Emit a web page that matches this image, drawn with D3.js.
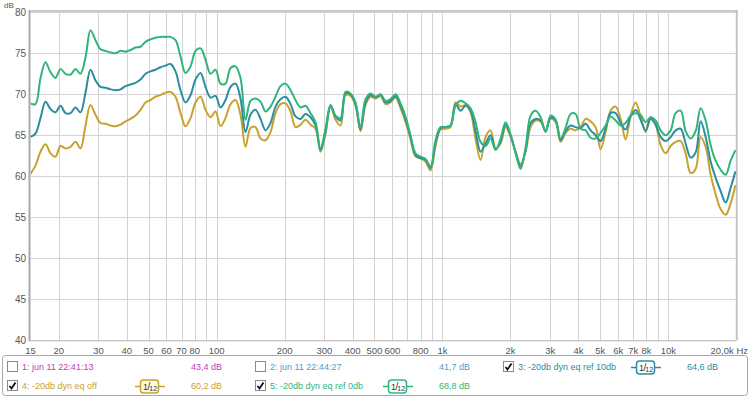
<!DOCTYPE html>
<html>
<head>
<meta charset="utf-8">
<script src="https://cdn.jsdelivr.net/npm/d3@7"></script>
<style>
  body { margin: 0; background: #fff; }
  svg { display: block; font-family: "Liberation Sans", Arial, sans-serif; }
</style>
</head>
<body>
<div id="chart"></div>
<script>
// frequency points (Hz), shared by all traces
const freqs = [15, 15.78, 16.61, 17.48, 18.39, 19.35, 20.37, 21.43, 22.55, 23.73,
  24.97, 26.28, 27.65, 29.1, 30.62, 32.22, 33.91, 35.68, 37.55, 39.51,
  41.58, 43.75, 46.04, 48.45, 50.98, 53.65, 56.45, 59.41, 62.51, 65.78,
  69.23, 72.85, 76.66, 80.67, 84.89, 89.33, 94.0, 98.92, 104.1, 109.5,
  115.3, 121.3, 127.6, 134.3, 141.3, 148.7, 156.5, 164.7, 173.3, 182.3,
  191.9, 201.9, 212.5, 223.6, 235.3, 247.6, 260.5, 274.2, 288.5, 303.6,
  319.5, 336.2, 353.8, 372.3, 391.8, 412.3, 433.8, 456.5, 480.4, 505.5,
  532, 559.8, 589.1, 619.9, 652.3, 686.4, 722.3, 760.1, 799.9, 841.7,
  885.7, 932.1, 980.8, 1032, 1086, 1143, 1203, 1266, 1332, 1402,
  1475, 1552, 1633, 1719, 1809, 1903, 2003, 2108, 2218, 2334,
  2456, 2585, 2720, 2862, 3012, 3170, 3335, 3510, 3693, 3886,
  4090, 4304, 4529, 4766, 5015, 5277, 5553, 5844, 6150, 6471,
  6810, 7166, 7541, 7935, 8350, 8787, 9247, 9730, 10240, 10775,
  11339, 11932, 12556, 13213, 13904, 14631, 15396, 16202, 17049, 17941,
  18880, 19820];

// 4: -20db dyn eq off (dB)
const eqOff = [60.3, 61.3, 63.0, 63.9, 62.8, 62.4, 63.7, 63.4, 63.6, 64.2,
  63.4, 66.2, 68.7, 67.5, 66.5, 66.4, 66.2, 66.1, 66.3, 66.7,
  67.0, 67.4, 68.1, 69.0, 69.3, 69.7, 69.9, 70.2, 70.3, 69.7,
  67.7, 66.1, 67.1, 69.0, 69.7, 68.1, 67.2, 67.9, 66.1, 67.1,
  68.8, 69.3, 67.5, 63.6, 65.9, 66.0, 64.6, 64.4, 65.4, 67.7,
  68.8, 68.9, 67.9, 66.0, 66.3, 66.9, 66.3, 65.8, 63.0, 65.2,
  68.5, 66.9, 66.2, 69.9, 69.8, 68.6, 65.5, 68.7, 69.7, 69.5,
  69.8, 68.8, 69.0, 69.6, 68.3, 66.6, 64.5, 62.4, 62.2, 61.8,
  60.7, 63.7, 65.7, 65.8, 66.0, 69.0, 68.5, 68.7, 67.8, 64.5,
  62.0, 64.8, 65.6, 63.4, 64.0, 66.0, 64.8, 63.0, 61.5, 63.0,
  66.0, 66.8, 66.7, 65.6, 67.0, 66.6, 64.2, 65.3, 65.8, 65.6,
  66.0, 67.0, 66.7, 66.0, 63.3, 65.4, 68.0, 68.5, 67.0, 64.5,
  67.4, 69.0, 67.3, 65.4, 67.2, 66.3, 63.8, 62.8, 63.7, 64.2,
  64.3, 62.8, 60.4, 60.9, 64.8, 63.6, 60.2, 57.8, 56.0, 55.3,
  56.7, 58.9];

// 3: -20db dyn eq ref 10db (dB)
const eqRef10 = [64.8, 65.2, 67.1, 69.1, 68.2, 67.8, 68.6, 67.7, 67.7, 68.4,
  67.8, 70.2, 73.0, 71.7, 70.9, 70.8, 70.6, 70.5, 70.6, 71.0,
  71.2, 71.4, 71.8, 72.5, 72.8, 73.0, 73.3, 73.5, 73.7, 72.8,
  70.5, 69.0, 69.9, 71.8, 72.6, 70.9, 69.6, 69.8, 68.4, 69.3,
  70.9, 71.3, 69.5, 65.4, 67.5, 68.1, 67.0, 65.6, 66.5, 68.5,
  69.4, 69.7, 68.8, 67.3, 67.0, 67.6, 67.2, 66.2, 63.2, 65.5,
  68.6, 67.3, 66.8, 70.1, 70.0, 68.8, 65.7, 69.0, 69.9, 69.6,
  69.9, 69.0, 69.2, 69.8, 68.6, 67.0, 64.8, 62.6, 62.2, 62.0,
  61.0, 64.1, 65.9, 66.0, 66.2, 68.8, 68.0, 68.6, 68.0, 65.5,
  63.0, 64.0, 65.0, 63.3, 64.3, 66.3, 65.0, 62.9, 61.2, 63.2,
  66.5, 67.0, 66.8, 65.5, 67.2, 66.8, 64.4, 65.5, 66.2, 66.0,
  65.9, 66.4, 65.6, 65.0, 64.3, 65.8, 67.7, 67.7, 66.5, 65.7,
  67.3, 68.1, 66.9, 65.6, 67.0, 66.3, 64.8, 64.3, 64.8, 65.6,
  65.8, 64.0, 62.3, 62.9, 66.7, 64.8, 61.8, 59.8, 58.2, 56.8,
  58.6, 60.6];

// 5: -20db dyn eq ref 0db (dB)
const eqRef0 = [68.9, 68.8, 72.0, 73.9, 72.7, 72.0, 73.1, 72.5, 72.4, 73.1,
  72.5, 74.5, 77.8, 76.6, 75.5, 75.3, 75.1, 75.0, 75.3, 75.2,
  75.4, 75.7, 75.8, 76.4, 76.7, 76.9, 77.0, 77.0, 77.0, 76.6,
  74.6, 72.6, 73.4, 75.3, 75.6, 74.2, 72.5, 73.0, 71.3, 71.3,
  73.2, 73.4, 72.0, 66.9, 69.2, 69.5, 69.1, 67.9, 68.5, 69.7,
  71.0, 71.3, 70.5, 69.3, 68.4, 68.6, 67.7, 66.6, 63.4, 65.8,
  68.7, 67.4, 67.1, 70.3, 70.1, 69.0, 65.9, 69.4, 70.1, 69.7,
  70.0, 69.2, 69.4, 70.0, 68.9, 67.3, 65.0, 62.8, 62.4, 62.1,
  61.2, 64.4, 66.0, 66.0, 66.2, 68.6, 69.2, 68.9, 68.3, 66.6,
  64.2, 63.7, 64.6, 63.2, 64.6, 66.6, 65.1, 62.8, 60.9, 63.5,
  67.4, 68.0, 67.2, 65.4, 67.4, 66.9, 64.6, 65.9, 67.6, 67.6,
  65.8, 65.6, 64.7, 64.6, 65.3, 66.2, 67.3, 66.8, 66.2, 66.5,
  67.4, 67.7, 67.5, 66.6, 67.2, 66.8, 65.6, 65.0, 65.6, 67.7,
  68.0, 65.5, 64.6, 65.5, 68.3, 66.8, 63.8, 61.9, 60.8, 60.2,
  61.9, 63.2];

const yTicks = [40, 45, 50, 55, 60, 65, 70, 75, 80];
const xTicks = [15, 20, 30, 40, 50, 60, 70, 80, 100, 200, 300, 400, 500, 600, 800,
  1000, 2000, 3000, 4000, 5000, 6000, 7000, 8000, 10000];
const xTickLabels = ['15', '20', '30', '40', '50', '60', '70', '80', '100', '200', '300', '400', '500', '600', '800',
  '1k', '2k', '3k', '4k', '5k', '6k', '7k', '8k', '10k'];

// legend entries
const legendNames = ['1: jun 11 22:41:13', '2: jun 11 22:44:27', '3: -20db dyn eq ref 10db',
  '4: -20db dyn eq off', '5: -20db dyn eq ref 0db'];
const legendValues = ['43,4 dB', '41,7 dB', '64,6 dB', '60,2 dB', '68,8 dB'];
const legendChecked = [false, false, true, true, true];
const legendColors = ['#c23cc0', '#4f9dcf', '#2b8ea0', '#c9a22e', '#2fb57a'];

const W = 750, H = 398;
const plotLeft = 30.5, plotRight = 736.3, plotTop = 12.3, plotBottom = 340.3;

const svg = d3.select('#chart').append('svg')
  .attr('width', W).attr('height', H);

const x = d3.scaleLog().domain([15, 20000]).range([plotLeft, plotRight]);
const y = d3.scaleLinear().domain([40, 80]).range([plotBottom, plotTop]);

// plot background
svg.append('rect')
  .attr('x', plotLeft).attr('y', 11).attr('width', plotRight - plotLeft).attr('height', plotBottom - 11)
  .attr('fill', '#fff');

// grid
const grid = svg.append('g');
grid.selectAll('line.v')
  .data(x.ticks().filter(d => d > 15 && d < 20000))
  .enter().append('line')
  .attr('x1', d => Math.round(x(d)) + 0.5).attr('x2', d => Math.round(x(d)) + 0.5)
  .attr('y1', 11).attr('y2', plotBottom)
  .attr('stroke', '#d3d3d3').attr('stroke-width', 1);
grid.selectAll('line.h')
  .data(yTicks.filter(d => d > 40))
  .enter().append('line')
  .attr('x1', plotLeft).attr('x2', plotRight)
  .attr('y1', d => Math.round(y(d)) + 0.5).attr('y2', d => Math.round(y(d)) + 0.5)
  .attr('stroke', '#d3d3d3').attr('stroke-width', 1);

// frame
svg.append('line').attr('x1', plotLeft).attr('x2', plotRight + 1).attr('y1', 11).attr('y2', 11)
  .attr('stroke', '#c8c8c8').attr('stroke-width', 2);
svg.append('line').attr('x1', plotRight + 0.5).attr('x2', plotRight + 0.5).attr('y1', 10).attr('y2', plotBottom)
  .attr('stroke', '#c4c4c4').attr('stroke-width', 2);
svg.append('line').attr('x1', plotLeft).attr('x2', plotRight).attr('y1', plotBottom + 0.5).attr('y2', plotBottom + 0.5)
  .attr('stroke', '#b0b0b0').attr('stroke-width', 1);
svg.append('line').attr('x1', plotLeft - 1).attr('x2', plotLeft - 1).attr('y1', 10).attr('y2', plotBottom + 1)
  .attr('stroke', '#a8a8a8').attr('stroke-width', 2);

// clip for traces
svg.append('clipPath').attr('id', 'plotclip')
  .append('rect').attr('x', plotLeft).attr('y', 11).attr('width', plotRight - plotLeft).attr('height', plotBottom - 11);

const line = d3.line()
  .x((d, i) => x(freqs[i]))
  .y(d => y(d))
  .curve(d3.curveCatmullRom.alpha(0.5));

const traces = svg.append('g').attr('clip-path', 'url(#plotclip)');
[[eqOff, legendColors[3]], [eqRef10, legendColors[2]], [eqRef0, legendColors[4]]].forEach(function (s) {
  traces.append('path')
    .attr('d', line(s[0]))
    .attr('fill', 'none')
    .attr('stroke', s[1])
    .attr('stroke-width', 2)
    .attr('stroke-linejoin', 'round');
});

// y labels
svg.append('g').selectAll('text')
  .data(yTicks)
  .enter().append('text')
  .attr('x', 26).attr('y', d => y(d) + 3.5)
  .attr('text-anchor', 'end')
  .attr('font-size', 10).attr('fill', '#555')
  .text(d => d);
svg.append('text').attr('x', 4).attr('y', 8).attr('font-size', 8).attr('fill', '#555').text('dB');

// x labels
svg.append('g').selectAll('text')
  .data(xTicks)
  .enter().append('text')
  .attr('x', d => x(d)).attr('y', 353.5)
  .attr('text-anchor', 'middle')
  .attr('font-size', 9.5).attr('fill', '#555')
  .text((d, i) => xTickLabels[i]);
svg.append('text').attr('x', 748).attr('y', 353.5).attr('text-anchor', 'end')
  .attr('font-size', 9.5).attr('fill', '#555').text('20,0k Hz');

// legend box
svg.append('rect')
  .attr('x', 2.5).attr('y', 355.5).attr('width', 745).attr('height', 40)
  .attr('rx', 3).attr('fill', '#fff').attr('stroke', '#a6a6a6');

const slots = [[7, 367], [255, 367], [503, 367], [7, 386], [255, 386]];
legendNames.forEach(function (name, i) {
  const cx = slots[i][0], cy = slots[i][1];
  const g = svg.append('g');
  g.append('rect').attr('x', cx + 0.5).attr('y', cy - 5.5).attr('width', 10).attr('height', 10)
    .attr('fill', '#fff').attr('stroke', '#8a8a8a');
  if (legendChecked[i]) {
    g.append('path')
      .attr('d', `M${cx + 2.5},${cy} L${cx + 4.5},${cy + 2.5} L${cx + 8.5},${cy - 3.5}`)
      .attr('fill', 'none').attr('stroke', '#111').attr('stroke-width', 1.8);
  }
  g.append('text').attr('x', cx + 15).attr('y', cy + 3.2)
    .attr('font-size', 9).attr('fill', legendColors[i]).text(name);
  g.append('text').attr('x', cx + 215).attr('y', cy + 3.2).attr('text-anchor', 'end')
    .attr('font-size', 9).attr('fill', legendColors[i]).text(legendValues[i]);
  if (legendChecked[i]) {
    const ix = cx + 128;
    g.append('line').attr('x1', ix).attr('x2', ix + 30).attr('y1', cy + 0.5).attr('y2', cy + 0.5)
      .attr('stroke', legendColors[i]).attr('stroke-width', 1.5);
    g.append('rect').attr('x', ix + 5.5).attr('y', cy - 6).attr('width', 18).attr('height', 13)
      .attr('rx', 3).attr('fill', i === 3 ? '#fffbe6' : '#fff')
      .attr('stroke', legendColors[i]).attr('stroke-width', 1.5);
    const t = g.append('text').attr('x', ix + 8).attr('y', cy + 3.5).attr('fill', '#333');
    t.append('tspan').attr('font-size', 9).text('1');
    t.append('tspan').attr('font-size', 10).attr('dx', -0.5).text('/');
    t.append('tspan').attr('font-size', 7).attr('dy', 1.5).attr('dx', -1).text('12');
  }
});
</script>
</body>
</html>
